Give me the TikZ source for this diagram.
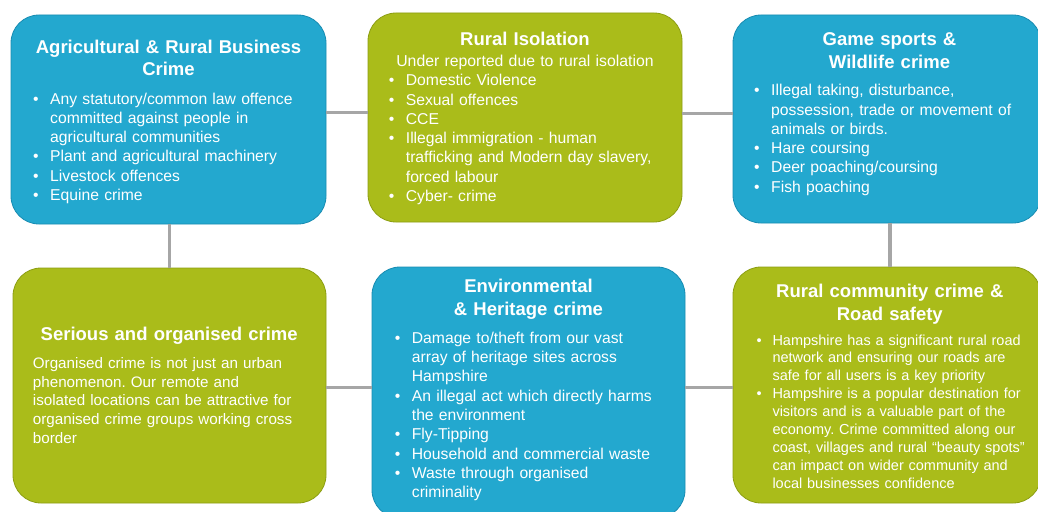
\documentclass[tikz,border=0pt]{standalone}
\usepackage{fontspec}
\setmainfont{Liberation Sans}
\frenchspacing
\newlength\bi
\setlength\bi{17pt}
\newcommand\bitem[1]{\hangindent=\bi\hangafter=1\makebox[\bi][l]{\textbullet}#1\par}
\definecolor{cblue}{RGB}{35,168,207}
\definecolor{cblueD}{RGB}{24,140,178}
\definecolor{cgreen}{RGB}{170,188,26}
\definecolor{cgreenD}{RGB}{140,158,18}
\definecolor{lgray}{RGB}{166,166,166}
\begin{document}
\begin{tikzpicture}[x=1pt,y=-1pt,
  box/.style={rectangle, rounded corners=28pt, inner sep=0pt, line width=0.8pt},
  bluebox/.style={box, fill=cblue, draw=cblueD},
  greenbox/.style={box, fill=cgreen, draw=cgreenD},
  ttl/.style={font=\bfseries\fontsize{18.5}{22.7}\selectfont\frenchspacing, text=white, align=center, text width=300pt, inner sep=0pt, anchor=base},
  sub/.style={font=\fontsize{15.8}{19.3}\selectfont\frenchspacing, text=white, align=center, text width=300pt, inner sep=0pt, anchor=base},
  bd/.style={font=\fontsize{15.7}{19.3}\selectfont\frenchspacing, text=white, align=left, text width=300pt, inner sep=0pt, anchor=base west},
  conn/.style={draw=lgray, line width=3pt}]
\useasboundingbox (0,0) rectangle (1038,511);
\fill[white] (0,0) rectangle (1038,511);
\clip (0,0) rectangle (1038,511);

% boxes
\node[bluebox, minimum width=315pt, minimum height=209pt] (b1) at (168.5,119.5) {};
\node[greenbox, minimum width=314pt, minimum height=209pt] (b2) at (525,117.5) {};
\node[bluebox, minimum width=308pt, minimum height=208pt] (b3) at (887,119) {};
\node[greenbox, minimum width=313pt, minimum height=235pt] (b4) at (169.5,385.5) {};
\node[bluebox, minimum width=313pt, minimum height=251pt] (b5) at (528.5,392.5) {};
\node[greenbox, minimum width=308pt, minimum height=236pt] (b6) at (887,385) {};

% connectors
\coordinate (h1) at (0,112);
\coordinate (h2) at (0,113);
\coordinate (h3) at (0,387);
\coordinate (v1) at (169.5,0);
\coordinate (v2) at (890,0);
\draw[conn] (b1.east |- h1) -- (b2.west |- h1);
\draw[conn] (b2.east |- h2) -- (b3.west |- h2);
\draw[conn, line width=3.5pt] (v1 |- b1.south) -- (v1 |- b4.north);
\draw[conn, line width=3.5pt] (v2 |- b3.south) -- (v2 |- b6.north);
\draw[conn] (b4.east |- h3) -- (b5.west |- h3);
\draw[conn] (b5.east |- h3) -- (b6.west |- h3);

% box 1
\node[ttl] (t1) at (168.5,53) {Agricultural \& Rural Business\\Crime};
\node[bd] (d1) at (33,104) {%
\bitem{Any statutory/common law offence\newline committed against people in\newline agricultural communities}%
\bitem{Plant and agricultural machinery}%
\bitem{Livestock offences}%
\bitem{Equine crime}};

% box 2
\node[ttl] (t2) at (525,45.7) {Rural Isolation};
\node[sub] (s2) at (525,66.7) {Under reported due to rural isolation};
\node[bd] (d2) at (388.7,85.7) {%
\bitem{Domestic Violence}%
\bitem{Sexual offences}%
\bitem{CCE}%
\bitem{Illegal immigration - human\newline trafficking and Modern day slavery,\newline forced labour}%
\bitem{Cyber- crime}};

% box 3
\node[ttl] (t3) at (889.5,45.7) {Game sports \&\\Wildlife crime};
\node[bd] (d3) at (754,95.7) {%
\bitem{Illegal taking, disturbance,\newline possession, trade or movement of\newline animals or birds.}%
\bitem{Hare coursing}%
\bitem{Deer poaching/coursing}%
\bitem{Fish poaching}};

% box 4
\node[ttl] (t4) at (169.2,340) {Serious and organised crime};
\node[bd, font=\fontsize{15.2}{18.8}\selectfont\frenchspacing] (d4) at (32.7,368.3) {Organised crime is not just an urban\newline phenomenon. Our remote and\newline isolated locations can be attractive for\newline organised crime groups working cross\newline border};

% box 5
\node[ttl] (t5) at (528.5,292.7) {Environmental\\\& Heritage crime};
\node[bd] (d5) at (394.7,343.3) {%
\bitem{Damage to/theft from our vast\newline array of heritage sites across\newline Hampshire}%
\bitem{An illegal act which directly harms\newline the environment}%
\bitem{Fly-Tipping}%
\bitem{Household and commercial waste}%
\bitem{Waste through organised\newline criminality}};

% box 6
\node[ttl] (t6) at (889.8,297.3) {Rural community crime \&\\Road safety};
\node[bd, font=\fontsize{14.5}{17.9}\selectfont\frenchspacing] (d6) at (756.3,345) {\setlength\bi{16pt}%
\bitem{Hampshire has a significant rural road\newline network and ensuring our roads are\newline safe for all users is a key priority}%
\bitem{Hampshire is a popular destination for\newline visitors and is a valuable part of the\newline economy. Crime committed along our\newline coast, villages and rural “beauty spots”\newline can impact on wider community and\newline local businesses confidence}};
\end{tikzpicture}
\end{document}
